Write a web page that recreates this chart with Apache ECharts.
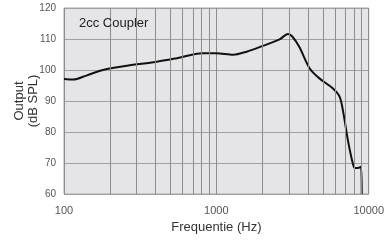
<!DOCTYPE html>
<html>
<head>
<meta charset="utf-8">
<script src="https://cdn.jsdelivr.net/npm/echarts@6/dist/echarts.min.js"></script>
<style>
html, body { margin: 0; padding: 0; background: #fff; }
#main { width: 387px; height: 240px; }
</style>
</head>
<body>
<div id="main"></div>
<script>
// frequentie (Hz) en output (dB SPL)
var freqs = [100, 115, 140, 180, 260, 400, 550, 810, 1000, 1290, 1580, 2000, 2600, 2950, 3150, 3500, 4100, 4750, 5800, 6440, 6800, 7300, 7850, 8100, 8500, 8900, 9000];
var output = [97.1, 96.9, 98.2, 100.0, 101.4, 102.6, 103.8, 105.4, 105.4, 104.9, 105.9, 107.7, 109.9, 111.6, 110.8, 107.5, 100.5, 97.3, 94.1, 91.4, 86.5, 77.4, 70.0, 68.4, 68.4, 68.8, 60];
var gridFreqs = [200, 300, 400, 500, 600, 700, 800, 900, 2000, 3000, 4000, 5000, 6000, 7000, 8000, 9000];
var xTicks = [100, 1000, 10000];

var fontFam = 'Liberation Sans, Arial, sans-serif';

var myChart = echarts.init(document.getElementById('main'));
var option = {
	animation: false,
	title: {
		text: '2cc Coupler',
		left: 74,
		top: 12,
		textStyle: { fontSize: 13, fontWeight: 'normal', color: '#222', fontFamily: fontFam }
	},
	grid: {
		left: 64,
		right: 18,
		top: 8,
		bottom: 46,
		show: true,
		backgroundColor: '#e5e5e8',
		borderColor: '#a8a8a8',
		borderWidth: 1
	},
	xAxis: {
		type: 'log',
		logBase: 10,
		min: xTicks[0],
		max: xTicks[xTicks.length - 1],
		name: 'Frequentie (Hz)',
		nameLocation: 'middle',
		nameGap: 27,
		nameMoveOverlap: false,
		nameTextStyle: { fontSize: 13, color: '#333', fontFamily: fontFam },
		axisLine: { show: false },
		axisTick: { show: false },
		axisLabel: {
			margin: 11,
			fontSize: 11,
			color: '#555',
			fontFamily: fontFam,
			formatter: function (v) { return String(Math.round(v)); }
		},
		splitLine: { show: true, lineStyle: { color: '#8c8c8c', width: 1 } }
	},
	yAxis: {
		type: 'value',
		min: 60,
		max: 120,
		interval: 10,
		name: 'Output\n(dB SPL)',
		nameLocation: 'middle',
		nameRotate: 90,
		nameGap: 24,
		nameMoveOverlap: false,
		nameTextStyle: { fontSize: 13, color: '#333', fontFamily: fontFam, lineHeight: 14 },
		axisLine: { show: false },
		axisTick: { show: false },
		axisLabel: { margin: 8, fontSize: 10, color: '#555', fontFamily: fontFam },
		splitLine: { show: true, lineStyle: { color: '#a0a0a0', width: 1 } }
	},
	series: [{
		type: 'line',
		data: freqs.map(function (f, i) { return [f, output[i]]; }),
		showSymbol: false,
		smooth: 0.3,
		clip: true,
		lineStyle: { color: '#111', width: 2 },
		markLine: {
			silent: true,
			symbol: 'none',
			label: { show: false },
			lineStyle: { color: '#8c8c8c', width: 1, type: 'solid' },
			data: gridFreqs.map(function (f) { return { xAxis: f }; })
		},
		z: 3
	}]
};
myChart.setOption(option);
</script>
</body>
</html>
